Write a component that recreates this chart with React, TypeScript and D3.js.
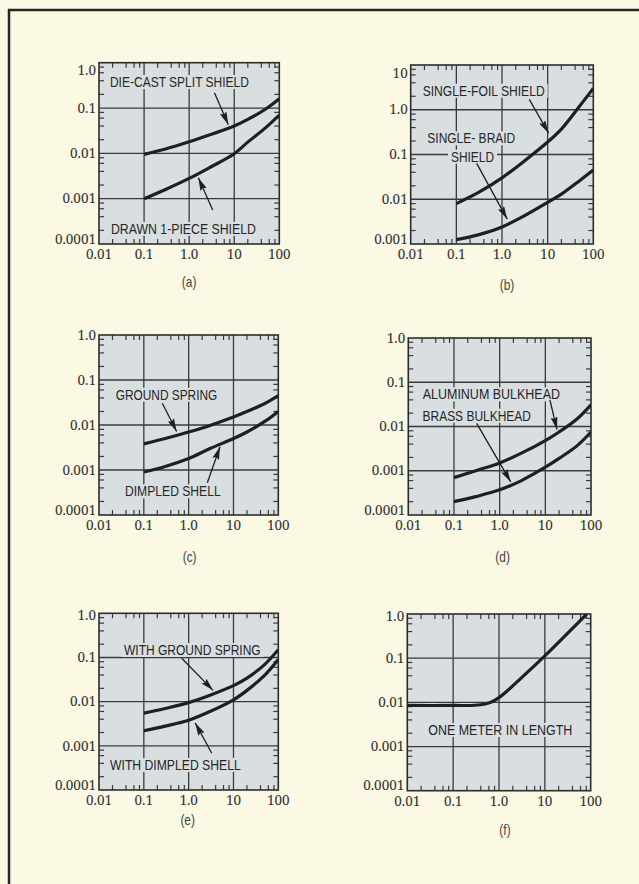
import React from "react";
import * as d3 from "d3";

// ---------- data ----------
const xTickValues = [0.01, 0.1, 1, 10, 100];
const xTickLabels = ["0.01", "0.1", "1.0", "10", "100"];
const yTickValuesStd = [1, 0.1, 0.01, 0.001, 0.0001];
const yTickLabelsStd = ["1.0", "0.1", "0.01", "0.001", "0.0001"];
const yTickValuesB = [10, 1, 0.1, 0.01, 0.001];
const yTickLabelsB = ["10", "1.0", "0.1", "0.01", "0.001"];
const minorSteps = [2, 4, 6, 8];

const freqX = [0.1, 0.3, 1, 3, 10, 20, 50, 100];
// (a)
const dieCastSplit = [0.0095, 0.0125, 0.018, 0.026, 0.04, 0.056, 0.095, 0.16];
const drawnOnePiece = [0.001, 0.0016, 0.0028, 0.005, 0.0098, 0.0177, 0.037, 0.07];
// (b)
const singleFoil = [0.008, 0.014, 0.03, 0.07, 0.19, 0.37, 1.2, 3.0];
const singleBraid = [0.00125, 0.0016, 0.0024, 0.0042, 0.0085, 0.013, 0.026, 0.045];
// (c)
const groundSpringC = [0.0038, 0.005, 0.007, 0.0098, 0.015, 0.02, 0.03, 0.045];
const dimpledShellC = [0.0009, 0.0012, 0.0018, 0.003, 0.005, 0.007, 0.012, 0.02];
// (d)
const aluminumBulkhead = [0.0007, 0.001, 0.0015, 0.0025, 0.0048, 0.0075, 0.015, 0.031];
const brassBulkhead = [0.0002, 0.00026, 0.00037, 0.0006, 0.0012, 0.0019, 0.0037, 0.0075];
// (e)
const withGroundSpring = [0.0055, 0.007, 0.0095, 0.014, 0.023, 0.034, 0.07, 0.15];
const withDimpledShell = [0.0022, 0.0028, 0.0038, 0.006, 0.011, 0.018, 0.04, 0.09];
// (f)
const freqXF = [0.01, 0.1, 0.3, 0.5, 0.7, 1, 1.5, 3, 10, 30, 82];
const oneMeter = [0.0085, 0.0085, 0.0086, 0.0092, 0.0103, 0.0128, 0.018, 0.035, 0.113, 0.35, 1.0];

// ---------- layout / style ----------
const W = 639;
const H = 884;
const PAGE_BG = "#fbf8e4";
const PLOT_BG = "#d9dfe1";
const INK = "#1f1f1f";
const GRID = "#3a3a3a";
const SANS = "'Liberation Sans', Arial, sans-serif";
const SERIF = "'Noto Serif', 'Liberation Serif', serif";

type Ann = { text: string; x: number; y: number; w: number };
type Arrow = { from: [number, number]; to: [number, number] };
type Panel = {
  caption: string;
  left: number; top: number; width: number; height: number;
  xDomain: [number, number]; yDomain: [number, number];
  yTicks: number[]; yLabels: string[];
  topShift: number; captionDy: number; captionDx: number;
  series: { x: number[]; y: number[] }[];
  labels: Ann[]; arrows: Arrow[];
};

const panels: Panel[] = [
  {
    caption: "(a)", left: 99, top: 62.7, width: 180.3, height: 181.3,
    xDomain: [0.01, 100], yDomain: [0.0001, 1], yTicks: yTickValuesStd, yLabels: yTickLabelsStd,
    topShift: 8, captionDy: 38, captionDx: 0,
    series: [{ x: freqX, y: dieCastSplit }, { x: freqX, y: drawnOnePiece }],
    labels: [
      { text: "DIE-CAST SPLIT SHIELD", x: 0.0175, y: 0.375, w: 139 },
      { text: "DRAWN 1-PIECE SHIELD", x: 0.0184, y: 0.000217, w: 145 },
    ],
    arrows: [
      { from: [3.64, 0.218], to: [7.4, 0.043] },
      { from: [3.33, 0.00056], to: [1.6, 0.0029] },
    ],
  },
  {
    caption: "(b)", left: 410.7, top: 65, width: 182.6, height: 179,
    xDomain: [0.01, 100], yDomain: [0.001, 10], yTicks: yTickValuesB, yLabels: yTickLabelsB,
    topShift: 8, captionDy: 41, captionDx: 5,
    series: [{ x: freqX, y: singleFoil }, { x: freqX, y: singleBraid }],
    labels: [
      { text: "SINGLE-FOIL SHIELD", x: 0.0183, y: 2.67, w: 122 },
      { text: "SINGLE- BRAID", x: 0.0231, y: 0.23, w: 88 },
      { text: "SHIELD", x: 0.0763, y: 0.0893, w: 43 },
    ],
    arrows: [
      { from: [3.96, 1.71], to: [10.5, 0.3] },
      { from: [0.279, 0.0635], to: [1.3, 0.0036] },
    ],
  },
  {
    caption: "(c)", left: 99, top: 335, width: 179.3, height: 180,
    xDomain: [0.01, 100], yDomain: [0.0001, 1], yTicks: yTickValuesStd, yLabels: yTickLabelsStd,
    topShift: 0, captionDy: 41.7, captionDx: 1,
    series: [{ x: freqX, y: groundSpringC }, { x: freqX, y: dimpledShellC }],
    labels: [
      { text: "GROUND SPRING", x: 0.0236, y: 0.0471, w: 101.6 },
      { text: "DIMPLED SHELL", x: 0.038, y: 0.000336, w: 95.7 },
    ],
    arrows: [
      { from: [0.259, 0.0304], to: [0.54, 0.0072] },
      { from: [2.61, 0.000522], to: [5, 0.0033] },
    ],
  },
  {
    caption: "(d)", left: 408.3, top: 338, width: 182.7, height: 177,
    xDomain: [0.01, 100], yDomain: [0.0001, 1], yTicks: yTickValuesStd, yLabels: yTickLabelsStd,
    topShift: 0, captionDy: 41.7, captionDx: 3,
    series: [{ x: freqX, y: aluminumBulkhead }, { x: freqX, y: brassBulkhead }],
    labels: [
      { text: "ALUMINUM BULKHEAD", x: 0.0207, y: 0.0534, w: 137.3 },
      { text: "BRASS BULKHEAD", x: 0.0205, y: 0.01755, w: 108.4 },
    ],
    arrows: [
      { from: [12.6, 0.0397], to: [18, 0.0085] },
      { from: [0.314, 0.0118], to: [1.75, 0.00056] },
    ],
  },
  {
    caption: "(e)", left: 99, top: 613.3, width: 179.3, height: 176.7,
    xDomain: [0.01, 100], yDomain: [0.0001, 1], yTicks: yTickValuesStd, yLabels: yTickLabelsStd,
    topShift: 2, captionDy: 30, captionDx: -1,
    series: [{ x: freqX, y: withGroundSpring }, { x: freqX, y: withDimpledShell }],
    labels: [
      { text: "WITH GROUND SPRING", x: 0.0361, y: 0.148, w: 136.7 },
      { text: "WITH DIMPLED SHELL", x: 0.0176, y: 0.00037, w: 130.7 },
    ],
    arrows: [
      { from: [0.701, 0.096], to: [3.5, 0.018] },
      { from: [3.28, 0.00068], to: [1.4, 0.0033] },
    ],
  },
  {
    caption: "(f)", left: 407.3, top: 614, width: 183.4, height: 176.7,
    xDomain: [0.01, 100], yDomain: [0.0001, 1], yTicks: yTickValuesStd, yLabels: yTickLabelsStd,
    topShift: 2, captionDy: 39, captionDx: 6,
    series: [{ x: freqXF, y: oneMeter }],
    labels: [{ text: "ONE METER IN LENGTH", x: 0.0287, y: 0.00238, w: 144 }],
    arrows: [],
  },
];

function drawPanel(svg: any, p: Panel, i: number) {
  const x = d3.scaleLog().domain(p.xDomain).range([p.left, p.left + p.width]);
  const y = d3.scaleLog().domain(p.yDomain).range([p.top + p.height, p.top]);
  const x0 = p.left, x1 = p.left + p.width, y0 = p.top, y1 = p.top + p.height;
  const g = svg.append("g");

  g.append("rect").attr("x", x0).attr("y", y0).attr("width", p.width).attr("height", p.height).attr("fill", PLOT_BG);

  // minor ticks
  const tickLen = 5;
  const decadesX = d3.range(Math.log10(p.xDomain[0]), Math.log10(p.xDomain[1]));
  decadesX.forEach((e) => {
    minorSteps.forEach((m) => {
      const px = x(Math.pow(10, e) * m);
      g.append("line").attr("x1", px).attr("x2", px).attr("y1", y0).attr("y2", y0 + tickLen)
        .attr("stroke", GRID).attr("stroke-width", 1.2);
      g.append("line").attr("x1", px).attr("x2", px).attr("y1", y1).attr("y2", y1 - tickLen)
        .attr("stroke", GRID).attr("stroke-width", 1.2);
    });
  });
  const decadesY = d3.range(Math.log10(p.yDomain[0]), Math.log10(p.yDomain[1]));
  decadesY.forEach((e) => {
    minorSteps.forEach((m) => {
      const py = y(Math.pow(10, e) * m);
      g.append("line").attr("y1", py).attr("y2", py).attr("x1", x0).attr("x2", x0 + tickLen)
        .attr("stroke", GRID).attr("stroke-width", 1.2);
      g.append("line").attr("y1", py).attr("y2", py).attr("x1", x1).attr("x2", x1 - tickLen)
        .attr("stroke", GRID).attr("stroke-width", 1.2);
    });
  });

  // grid lines
  xTickValues.forEach((v) => {
    if (v <= p.xDomain[0] || v >= p.xDomain[1]) return;
    g.append("line").attr("x1", x(v)).attr("x2", x(v)).attr("y1", y0).attr("y2", y1)
      .attr("stroke", GRID).attr("stroke-width", 1.3);
  });
  p.yTicks.forEach((v) => {
    if (v <= p.yDomain[0] || v >= p.yDomain[1]) return;
    g.append("line").attr("y1", y(v)).attr("y2", y(v)).attr("x1", x0).attr("x2", x1)
      .attr("stroke", GRID).attr("stroke-width", 1.3);
  });

  // border
  g.append("rect").attr("x", x0).attr("y", y0).attr("width", p.width).attr("height", p.height)
    .attr("fill", "none").attr("stroke", "#2c2c2c").attr("stroke-width", 1.6);

  // labels with masks
  p.labels.forEach((l) => {
    const mask = g.append("rect").attr("fill", PLOT_BG);
    const t = g.append("text").attr("x", x(l.x)).attr("y", y(l.y)).attr("dy", "0.36em")
      .style("font-family", SANS).attr("font-size", 14).attr("fill", "#262626")
      .attr("textLength", l.w).attr("lengthAdjust", "spacingAndGlyphs").text(l.text);
    const bb = (t.node() as SVGTextElement).getBBox();
    mask.attr("x", x(l.x) - 3).attr("y", bb.y + 1).attr("width", l.w + 6).attr("height", bb.height - 2);
  });

  // arrows
  p.arrows.forEach((a) => {
    g.append("line").attr("x1", x(a.from[0])).attr("y1", y(a.from[1]))
      .attr("x2", x(a.to[0])).attr("y2", y(a.to[1]))
      .attr("stroke", INK).attr("stroke-width", 1.3).attr("marker-end", "url(#arrowhead)");
  });

  // curves
  const clipId = `clip-${i}`;
  svg.select("defs").append("clipPath").attr("id", clipId).append("rect")
    .attr("x", x0).attr("y", y0).attr("width", p.width).attr("height", p.height);
  const line = d3.line<[number, number]>().x((d) => x(d[0])).y((d) => y(d[1]))
    .curve(d3.curveCatmullRom.alpha(0.5));
  p.series.forEach((s) => {
    const pts = s.x.map((v, k) => [v, s.y[k]] as [number, number]);
    g.append("path").attr("d", line(pts)).attr("fill", "none").attr("stroke", INK)
      .attr("stroke-width", 3.2).attr("stroke-linecap", "butt").attr("clip-path", `url(#${clipId})`);
  });

  // tick labels
  xTickValues.forEach((v, k) => {
    g.append("text").attr("x", x(v)).attr("y", y1 + 15).attr("text-anchor", "middle")
      .style("font-family", SERIF).attr("font-size", 13.5).attr("fill", "#333").text(xTickLabels[k]);
  });
  p.yTicks.forEach((v, k) => {
    let py = y(v);
    if (k === 0) py += p.topShift;
    if (k === p.yTicks.length - 1) py -= 5;
    g.append("text").attr("x", x0 - 3).attr("y", py).attr("dy", "0.35em").attr("text-anchor", "end")
      .style("font-family", SERIF).attr("font-size", 13.5).attr("fill", "#333").text(p.yLabels[k]);
  });

  // caption
  const cx = (x0 + x1) / 2 + p.captionDx;
  g.append("text").attr("x", cx).attr("y", y1 + p.captionDy).attr("dy", "0.35em")
    .attr("text-anchor", "middle").style("font-family", SANS).attr("font-size", 14).attr("fill", "#444")
    .attr("transform", `translate(${cx},0) scale(0.85,1) translate(${-cx},0)`)
    .text(p.caption);
}

export default function App() {
  const ref = React.useRef<SVGSVGElement>(null);
  React.useEffect(() => {
    const svg = d3.select(ref.current);
    svg.selectAll("*").remove();
    const defs = svg.append("defs");
    defs.append("marker").attr("id", "arrowhead").attr("viewBox", "0 0 13 7")
      .attr("refX", 13).attr("refY", 3.5).attr("markerWidth", 13).attr("markerHeight", 7)
      .attr("markerUnits", "userSpaceOnUse").attr("orient", "auto")
      .append("path").attr("d", "M0,0 L13,3.5 L0,7 L2,3.5 Z").attr("fill", INK);

    svg.append("rect").attr("width", W).attr("height", H).attr("fill", PAGE_BG);
    svg.append("line").attr("x1", 8).attr("y1", 10).attr("x2", W).attr("y2", 10)
      .attr("stroke", "#262626").attr("stroke-width", 2.5);
    svg.append("line").attr("x1", 9).attr("y1", 9).attr("x2", 9).attr("y2", H)
      .attr("stroke", "#262626").attr("stroke-width", 2.5);

    panels.forEach((p, i) => drawPanel(svg, p, i));
  }, []);
  return (
    <svg ref={ref} width={W} height={H}
      style={{ position: "absolute", left: 0, top: 0, display: "block" }} />
  );
}
